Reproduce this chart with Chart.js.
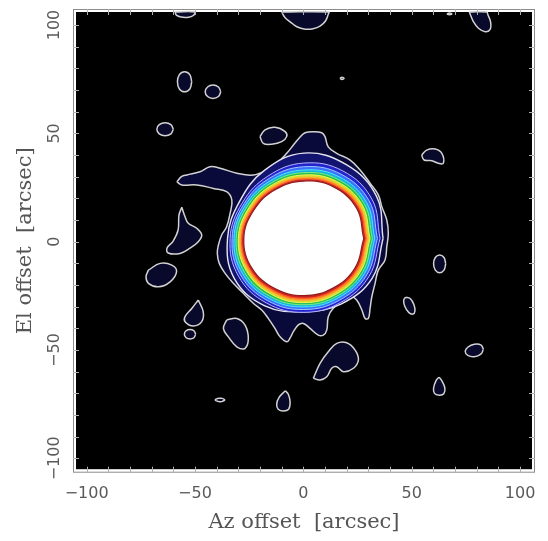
<!DOCTYPE html>
<html>
<head>
<meta charset="utf-8">
<script src="https://cdn.jsdelivr.net/npm/chart.js@4.4.1/dist/chart.umd.min.js"></script>
<style>
  html, body { margin: 0; padding: 0; background: #fff; }
</style>
</head>
<body>
<canvas id="beamMap" width="548" height="541"></canvas>
<script>
// Axis labels (arcsec)
const tickLabels = [-100, -50, 0, 50, 100];
const tickStep = 10;

// Main source: centre, white core radius per angle, contour offsets outside the core
const sourceCenter = [0.2, 1.5];
const ringAngles = [0, 30, 60, 90, 120, 150, 180, 210, 240, 270, 300, 330];
const coreRadius = [27.4, 27.8, 27.2, 26.2, 25.8, 26.2, 27.4, 27.3, 26.4, 26.1, 26.3, 27.0];
const ringOffsets = [
  [0.6, 0.6, 0.6, 0.6, 0.6, 0.6, 0.6, 0.6, 0.6, 0.6, 0.6, 0.6],   // dark red
  [1.3, 1.3, 1.2, 1.1, 1.1, 1.1, 1.2, 1.3, 1.4, 1.5, 1.4, 1.3],   // red
  [2.2, 2.2, 2.1, 2.0, 2.0, 2.0, 2.0, 2.2, 2.4, 2.5, 2.4, 2.3],   // orange
  [3.2, 3.3, 3.2, 3.1, 2.9, 2.8, 2.8, 3.1, 3.4, 3.5, 3.4, 3.3],   // yellow
  [4.3, 4.4, 4.3, 4.2, 3.9, 3.8, 3.8, 4.2, 4.5, 4.5, 4.4, 4.3],   // green
  [5.4, 5.6, 5.6, 5.4, 5.0, 4.8, 4.8, 5.3, 5.6, 5.5, 5.4, 5.4],   // cyan
  [6.6, 7.0, 7.1, 6.9, 6.2, 5.7, 5.7, 6.4, 6.8, 6.7, 6.6, 6.6],   // light blue
  [7.8, 8.5, 8.8, 8.6, 7.4, 6.6, 6.6, 7.5, 8.0, 8.0, 7.8, 7.8],   // blue
  [9.2, 11.0, 12.1, 13.2, 10.5, 8.0, 7.8, 9.7, 9.5, 7.7, 8.5, 9.5] // second white contour
];

// Lowest contour around the source
const outerContour = [
  [-58.4, 27.7], [-56.1, 30.1], [-53.8, 30.8], [-47.7, 32.3], [-43.1, 34.6], [-38.4, 33.9],
  [-30.7, 31.6], [-23.1, 30.8], [-16.9, 33.1], [-12.3, 36.2], [-7.7, 40.8], [-4.6, 44.6],
  [-1.5, 48.3], [0.8, 50.3], [4.6, 50.8], [8.5, 50.3], [10.0, 48.5], [11.5, 43.8],
  [15.4, 40.8], [21.6, 37.7], [26.2, 33.1], [30.8, 27.0], [34.6, 21.6], [36.2, 16.2],
  [38.5, 10.0], [39.2, 3.9], [38.5, -2.3], [37.7, -8.4], [34.6, -13.1], [33.1, -19.2],
  [31.6, -25.4], [30.8, -30.7], [30.0, -35.4], [28.5, -35.4], [27.0, -31.5], [24.6, -26.9],
  [22.3, -25.4], [18.5, -26.9], [13.8, -30.7], [11.5, -34.6], [10.8, -40.8], [9.2, -43.1],
  [6.9, -43.1], [3.1, -40.0], [0.0, -37.7], [-2.3, -38.4], [-4.6, -41.5], [-6.1, -44.4],
  [-7.7, -46.2], [-10.8, -43.8], [-13.1, -40.0], [-16.2, -35.4], [-19.2, -31.5], [-23.1, -28.4],
  [-27.7, -23.8], [-32.3, -19.2], [-36.1, -14.6], [-38.8, -10.0], [-39.7, -5.4], [-39.2, -1.5],
  [-37.7, 3.1], [-35.4, 6.9], [-33.8, 13.1], [-33.0, 19.2], [-35.4, 23.1], [-41.5, 24.6],
  [-49.2, 26.2], [-56.1, 26.2]
];

// Isolated noise contours
const islands = [
  [[-59.2, 106], [-58.6, 104.6], [-56.5, 103.7], [-53, 103.6], [-50.8, 104.4], [-50, 106]],
  [[-10, 106], [-8.5, 103.5], [-6.1, 101.5], [-3, 99.2], [0.8, 98.1], [4.5, 98.3], [7.7, 99.5], [10.3, 102], [11.5, 105], [11.7, 106]],
  [[76.6, 106], [76.9, 105.2], [78.5, 101.5], [80.8, 98.5], [83.9, 96.9], [86.2, 98.0], [86.4, 101.5], [85.2, 104.6], [84.6, 106]],
  [[66.2, 105.1], [67.3, 105.5], [68.5, 105.1], [67.3, 104.8]],
  [[16.9, 75.4], [17.8, 75.9], [18.8, 75.4], [17.8, 74.9]],
  [[-51.5, 73.8], [-52.4, 77.1], [-54.8, 78.4], [-57.2, 77.1], [-58.1, 73.8], [-57.2, 70.5], [-54.8, 69.2], [-52.4, 70.5]],
  [[-38.1, 69.2], [-39.2, 71.4], [-41.7, 72.3], [-44.2, 71.4], [-45.3, 69.2], [-44.2, 67.0], [-41.7, 66.1], [-39.2, 67.0]],
  [[-60, 51.9], [-61.1, 54], [-63.8, 54.9], [-66.5, 54], [-67.6, 51.9], [-66.5, 49.8], [-63.8, 48.9], [-61.1, 49.8]],
  [[-20, 48.5], [-17.7, 51.6], [-13.1, 52.8], [-8.4, 50.8], [-7.7, 48.5], [-10, 46.2], [-14.6, 45.0], [-18.5, 45.4]],
  [[54.6, 40], [56.9, 42.3], [60.8, 42.8], [63.9, 40.8], [64.6, 36.2], [62.3, 36.2], [59.3, 37.4], [55.7, 37.7]],
  [[65.7, -10.2], [64.9, -7.3], [62.9, -6.1], [60.9, -7.3], [60.1, -10.2], [60.9, -13.1], [62.9, -14.3], [64.9, -13.1]],
  [[47.2, -25.6], [49.3, -26.2], [51.0, -29.0], [51.5, -32.0], [50.6, -33.4], [48.6, -32.6], [46.8, -29.8], [46.3, -27]],
  [[83.1, -49.6], [81.9, -47.6], [78.9, -47.3], [76.0, -48.6], [74.7, -50.6], [75.9, -52.5], [78.9, -53.1], [81.9, -51.9]],
  [[62.6, -62.5], [63.8, -64], [65.3, -67.5], [64.8, -70.2], [62.7, -70.8], [60.5, -70], [60.1, -67.5], [61.3, -64]],
  [[-8.3, -68.8], [-6.9, -70.5], [-6.1, -74], [-6.8, -77.3], [-9.2, -78.1], [-11.6, -77.3], [-12.3, -75], [-11.2, -71.8]],
  [[-36.1, -73], [-37.4, -72.3], [-38.4, -72.2], [-39.4, -72.3], [-40.7, -73], [-39.4, -73.7], [-38.4, -73.8], [-37.4, -73.7]],
  [[4.6, -63], [7.7, -56.1], [11.5, -50.8], [15.4, -46.9], [20, -46.6], [23.9, -50], [25.4, -54.6], [23.1, -58.4], [18.5, -60], [15.4, -57.7], [13.1, -58.4], [10.8, -62.3], [7.7, -63.8]],
  [[-35.4, -36.1], [-30.7, -35.4], [-26.9, -38.5], [-25.4, -44.6], [-26.9, -49.2], [-30.7, -48.5], [-34.6, -43.9], [-36.9, -40.0]],
  [[-48.5, -26.9], [-46.2, -32.3], [-46.9, -36.9], [-50.8, -38.9], [-54.6, -36.9], [-54.6, -34.6], [-51.5, -30.8]],
  [[-49.7, -42.7], [-50.5, -41.1], [-52.3, -40.5], [-54.1, -41.1], [-54.9, -42.7], [-54.1, -44.3], [-52.3, -44.9], [-50.5, -44.3]],
  [[-71.5, -13.1], [-66.1, -10.0], [-60.7, -10.8], [-58.5, -13.8], [-61.5, -18.5], [-66.9, -20.8], [-71.5, -19.2], [-72.6, -16.2]],
  [[-56.1, 15.9], [-54.6, 11.5], [-53.1, 8.5], [-49.2, 6.2], [-46.9, 3.1], [-48.5, 0], [-52.3, -3.0], [-56.9, -5.4], [-62.4, -5.2], [-62.9, -2.9], [-60.1, 0.3], [-57.8, 5.4], [-57.4, 12.3]]
];

// styles of the source levels, innermost ring first
const ringFill = ['#8e1414', '#dc2616', '#ff8a18', '#d6dc22', '#26c052', '#16b2e2', '#3a72ff', '#2424cc', '#131370'];
const ringLine = ['#b02a2a', '#ff5a3a', '#ffb040', '#f2f25e', '#7cf07c', '#4ee8f0', '#9cc4ff', '#b4b4ff', '#e6e6f2'];

function toPoints(list) {
  const pts = list.map(p => ({x: p[0], y: p[1]}));
  pts.push({x: list[0][0], y: list[0][1]});
  return pts;
}

function ringPoints(offsets) {
  const list = ringAngles.map((a, i) => {
    const r = coreRadius[i] + (offsets ? offsets[i] : 0);
    const t = a * Math.PI / 180;
    return [sourceCenter[0] + r * Math.cos(t), sourceCenter[1] + r * Math.sin(t)];
  });
  return toPoints(list);
}

function contour(data, fillColor, lineColor, width) {
  return {
    data: data,
    showLine: true,
    fill: 'shape',
    backgroundColor: fillColor,
    borderColor: lineColor,
    borderWidth: width,
    pointRadius: 0,
    tension: 0.4
  };
}

// bottom layer first
const layers = [];
islands.forEach(isl => layers.push(contour(toPoints(isl), '#09092c', '#d2d2d2', 1.5)));
layers.push(contour(toPoints(outerContour), '#0a0a3a', '#d2d2d2', 1.5));
for (let k = ringOffsets.length - 1; k >= 0; k--) {
  layers.push(contour(ringPoints(ringOffsets[k]), ringFill[k], ringLine[k], k === ringOffsets.length - 1 ? 1.4 : 1));
}
layers.push(contour(ringPoints(null), '#ffffff', '#ffffff', 0));
// Chart.js paints dataset 0 last
const datasets = layers.reverse();

const mapFrame = {
  id: 'mapFrame',
  beforeDatasetsDraw(chart) {
    const {ctx, chartArea: a} = chart;
    ctx.save();
    ctx.fillStyle = '#000000';
    ctx.fillRect(a.left + 3, a.top + 3, a.width - 6, a.height - 6.5);
    ctx.restore();
  },
  afterDatasetsDraw(chart) {
    const {ctx, chartArea: a, scales} = chart;
    ctx.save();
    ctx.strokeStyle = '#8c8c8c';
    ctx.lineWidth = 1;
    ctx.strokeRect(a.left + 0.5, a.top + 0.5, a.width - 1, a.height - 1);
    ctx.strokeStyle = '#b0b0b0';
    ctx.beginPath();
    scales.x.ticks.forEach(t => {
      if (t.value % tickStep !== 0) return;
      const px = Math.round(scales.x.getPixelForValue(t.value)) + 0.5;
      ctx.moveTo(px, a.top); ctx.lineTo(px, a.top + 6);
      ctx.moveTo(px, a.bottom); ctx.lineTo(px, a.bottom - 6);
    });
    scales.y.ticks.forEach(t => {
      if (t.value % tickStep !== 0) return;
      const py = Math.round(scales.y.getPixelForValue(t.value)) + 0.5;
      ctx.moveTo(a.left, py); ctx.lineTo(a.left + 6, py);
      ctx.moveTo(a.right, py); ctx.lineTo(a.right - 6, py);
    });
    ctx.stroke();
    ctx.restore();
  }
};

function tickText(v) {
  if (!tickLabels.includes(v)) return '';
  return v < 0 ? '\u2212' + Math.abs(v) : String(v);
}

const ctx = document.getElementById('beamMap').getContext('2d');
new Chart(ctx, {
  type: 'line',
  data: { datasets: datasets },
  plugins: [mapFrame],
  options: {
    responsive: false,
    animation: false,
    events: [],
    layout: { padding: { top: 9, right: 13, left: 0, bottom: 0 } },
    plugins: { legend: { display: false }, tooltip: { enabled: false } },
    scales: {
      x: {
        type: 'linear',
        min: -106.3,
        max: 106.9,
        afterFit: s => { s.height = 68.3; },
        grid: { display: false, drawTicks: false },
        border: { display: false },
        ticks: {
          stepSize: tickStep, includeBounds: false, autoSkip: false, maxRotation: 0, padding: 12,
          color: '#5a5a5a', font: { family: 'DejaVu Sans', size: 16 },
          callback: tickText
        },
        title: {
          display: true, text: 'Az offset  [arcsec]', color: '#555',
          font: { family: 'DejaVu Serif', size: 21 }, padding: { top: 0, bottom: 6 }
        }
      },
      y: {
        type: 'linear',
        min: -106.6,
        max: 107.4,
        afterFit: s => { s.width = 73; },
        grid: { display: false, drawTicks: false },
        border: { display: false },
        ticks: {
          stepSize: tickStep, includeBounds: false, autoSkip: false, minRotation: 90, maxRotation: 90,
          crossAlign: 'center', padding: -4,
          color: '#5a5a5a', font: { family: 'DejaVu Sans', size: 16 },
          callback: tickText
        },
        title: {
          display: true, text: 'El offset  [arcsec]', color: '#555',
          font: { family: 'DejaVu Serif', size: 21 }, padding: { top: 13, bottom: 0 }
        }
      }
    }
  }
});
</script>
</body>
</html>
